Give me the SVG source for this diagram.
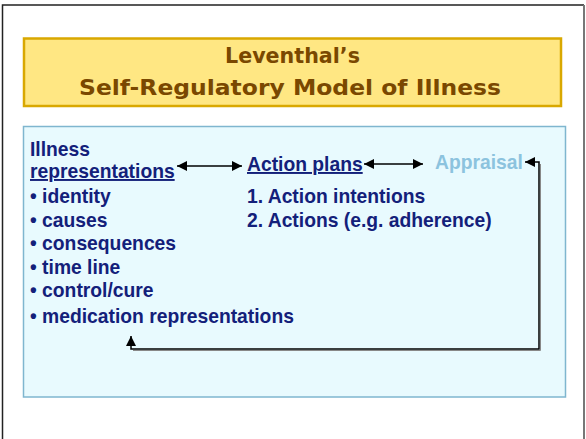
<svg xmlns="http://www.w3.org/2000/svg" width="586" height="439" viewBox="0 0 586 439">
<style>
.t{font-family:"Liberation Sans",Arial,sans-serif;font-weight:bold;font-size:19.3px;fill:#13207A}
.title{font-family:"DejaVu Sans","Liberation Sans",sans-serif;font-weight:bold;font-size:22px;fill:#7A4800}
.c{fill:none;stroke:#000;stroke-width:1.5}
.s{fill:none;stroke:#888;stroke-width:1}
</style>
<defs>
<marker id="ah" viewBox="0 0 10 10" refX="10" refY="5" markerWidth="10" markerHeight="10" markerUnits="userSpaceOnUse" orient="auto-start-reverse">
<path d="M0,0 L10,5 L0,10 Z" fill="#000"/>
</marker>
</defs>
<rect width="586" height="439" fill="#fff"/>
<path d="M2.5,439 V5 H584" fill="none" stroke="#222" stroke-width="1.5"/>
<path d="M584,5 V439" fill="none" stroke="#777" stroke-width="2"/>
<g id="title">
<rect x="24" y="38.5" width="537" height="67.5" fill="#FFE783" stroke="#D9A800" stroke-width="2.5"/>
<text class="title" x="292.5" y="63" text-anchor="middle" textLength="135" lengthAdjust="spacingAndGlyphs">Leventhal’s</text>
<text class="title" x="290" y="95" text-anchor="middle" textLength="422" lengthAdjust="spacingAndGlyphs">Self-Regulatory Model of Illness</text>
</g>
<g id="panel">
<rect x="23.5" y="126.5" width="542" height="270.5" fill="#E8FAFE" stroke="#7FB6CF" stroke-width="1.5"/>
</g>
<g id="illness">
<text class="t" x="30" y="156">Illness</text>
<text class="t" x="30" y="178" text-decoration="underline">representations</text>
<text class="t" x="30" y="203">• identity</text>
<text class="t" x="30" y="227">• causes</text>
<text class="t" x="30" y="250">• consequences</text>
<text class="t" x="30" y="274">• time line</text>
<text class="t" x="30" y="297">• control/cure</text>
<text class="t" x="30" y="323">• medication representations</text>
</g>
<g id="action">
<text class="t" x="247" y="171" text-decoration="underline">Action plans</text>
<text class="t" x="247" y="203">1. Action intentions</text>
<text class="t" x="247" y="227">2. Actions (e.g. adherence)</text>
</g>
<g id="appraisal">
<text class="t" x="435" y="169" style="fill:#8CC3DE">Appraisal</text>
</g>
<g id="connectors">
<path class="s" d="M133,350.5 H540.5 V164"/>
<line class="c" x1="177" y1="166" x2="242" y2="166" marker-start="url(#ah)" marker-end="url(#ah)"/>
<line class="c" x1="364" y1="164" x2="423" y2="164" marker-start="url(#ah)" marker-end="url(#ah)"/>
<path class="c" d="M131,336 V349 H539 V162 H525" marker-start="url(#ah)" marker-end="url(#ah)"/>
</g>
</svg>
